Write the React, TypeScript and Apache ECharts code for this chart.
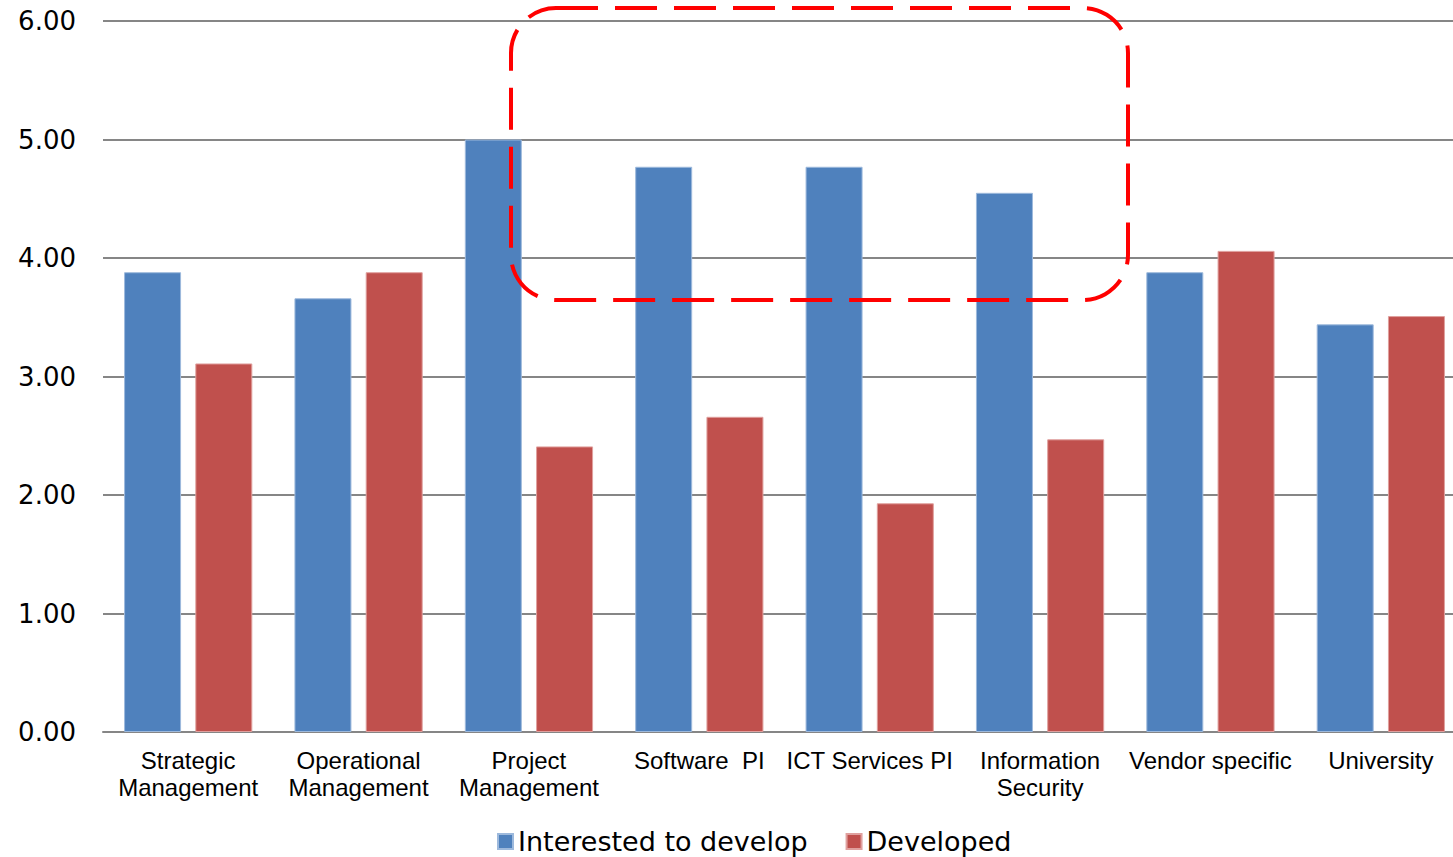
import React, { useEffect, useRef } from "react";
import * as echarts from "echarts";

const categories = [
  "Strategic\nManagement",
  "Operational\nManagement",
  "Project\nManagement",
  "Software  PI",
  "ICT Services PI",
  "Information\nSecurity",
  "Vendor specific",
  "University",
];
const interestedToDevelop = [3.88, 3.66, 5.0, 4.77, 4.77, 4.55, 3.88, 3.44];
const developed = [3.11, 3.88, 2.41, 2.66, 1.93, 2.47, 4.06, 3.51];
const seriesNames = ["Interested to develop", "Developed"];
const yTicks = { min: 0, max: 6, interval: 1 };

export default function App() {
  const ref = useRef<HTMLDivElement>(null);
  useEffect(() => {
    if (!ref.current) return;
    const chart = echarts.init(ref.current, null, { renderer: "svg" });
    chart.setOption({
      animation: false,
      backgroundColor: "#ffffff",
      grid: { left: 103, right: 0, top: 21, bottom: 125, containLabel: false },
      legend: {
        data: seriesNames,
        left: 492,
        top: 823,
        icon: "rect",
        itemWidth: 15,
        itemHeight: 15,
        itemGap: 38,
        textStyle: { fontFamily: "DejaVu Sans", fontSize: 27, color: "#000" },
      },
      xAxis: {
        type: "category",
        data: categories,
        axisTick: { show: false },
        axisLine: { lineStyle: { color: "#868686", width: 2 } },
        axisLabel: {
          interval: 0,
          margin: 15,
          fontFamily: "Liberation Sans",
          fontSize: 24,
          lineHeight: 27,
          color: "#000",
        },
      },
      yAxis: {
        type: "value",
        min: yTicks.min,
        max: yTicks.max,
        interval: yTicks.interval,
        axisLine: { show: false },
        axisTick: { show: false },
        splitLine: { lineStyle: { color: "#868686", width: 2 } },
        axisLabel: {
          margin: 27,
          fontFamily: "DejaVu Sans",
          fontSize: 26,
          color: "#000",
          formatter: (v: number) => v.toFixed(2),
        },
      },
      series: [
        {
          name: seriesNames[0],
          type: "bar",
          data: interestedToDevelop,
          barWidth: 57,
          barGap: "25%",
          itemStyle: { color: "#4F81BD", borderColor: "#9DB9DC", borderWidth: 1 },
        },
        {
          name: seriesNames[1],
          type: "bar",
          data: developed,
          barWidth: 57,
          barGap: "25%",
          itemStyle: { color: "#C0504D", borderColor: "#E0A09E", borderWidth: 1 },
        },
      ],
      graphic: [
        {
          type: "rect",
          z: 100,
          shape: { x: 511, y: 8, width: 617, height: 292, r: 45 },
          style: { fill: "none", stroke: "#FF0000", lineWidth: 4, lineDash: [42, 17] },
        },
      ],
    });
    return () => chart.dispose();
  }, []);
  return (
    <div
      style={{
        position: "fixed",
        left: 0,
        top: 0,
        width: 1453,
        height: 857,
        overflow: "hidden",
        background: "#fff",
      }}
    >
      <div ref={ref} style={{ width: 1466, height: 857 }} />
    </div>
  );
}
